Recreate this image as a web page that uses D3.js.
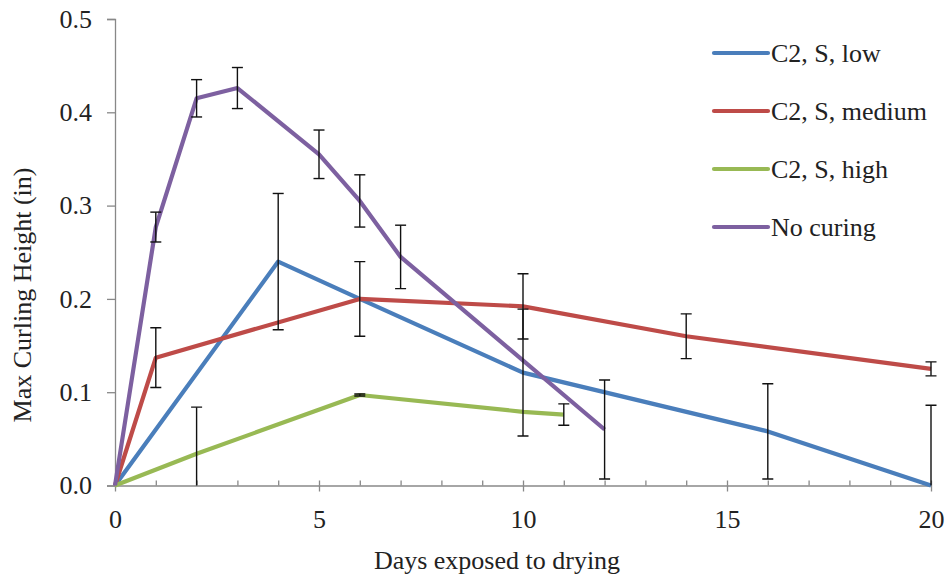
<!DOCTYPE html>
<html>
<head>
<meta charset="utf-8">
<script src="https://cdn.jsdelivr.net/npm/d3@7/dist/d3.min.js"></script>
<style>
  body { margin: 0; background: #fff; }
  svg text { font-family: "Liberation Serif", "Times New Roman", serif; fill: #222; }
</style>
</head>
<body>
<div id="chart"></div>
<script>
// series names + colours (Excel-ish palette)
const seriesNames = ["C2, S, low", "C2, S, medium", "C2, S, high", "No curing"];
const seriesColors = ["#4a7ebb", "#be4b48", "#98b954", "#7d60a0"];

// days on x, curling height (in) on y, error = half-length of bar (0 = none)
const lowDays = [0, 4, 6, 10, 16, 20];
const lowVals = [0, 0.240, 0.200, 0.121, 0.058, 0.000];
const lowErr  = [0, 0.073, 0, 0.068, 0.051, 0.086];

const medDays = [0, 1, 6, 10, 14, 20];
const medVals = [0, 0.137, 0.200, 0.192, 0.160, 0.125];
const medErr  = [0, 0.032, 0.040, 0.035, 0.024, 0.0075];

const highDays = [0, 2, 6, 10, 11];
const highVals = [0, 0.034, 0.097, 0.079, 0.076];
const highErr  = [0, 0.050, 0.001, 0, 0.0115];

const noCureDays = [0, 1, 2, 3, 5, 6, 7, 12];
const noCureVals = [0, 0.277, 0.415, 0.426, 0.355, 0.305, 0.245, 0.060];
const noCureErr  = [0, 0.016, 0.020, 0.022, 0.026, 0.028, 0.034, 0.053];

const xMajorTicks = [0, 5, 10, 15, 20];
const yTicks = [0, 0.1, 0.2, 0.3, 0.4, 0.5];

const width = 949, height = 577;
const margin = {top: 19, right: 18, bottom: 91.5, left: 115};
const fontSize = 26;

function toPoints(days, vals, errs) {
    return days.map((d, i) => ({day: d, v: vals[i], e: errs[i]}));
}

const series = [
    toPoints(lowDays, lowVals, lowErr),
    toPoints(medDays, medVals, medErr),
    toPoints(highDays, highVals, highErr),
    toPoints(noCureDays, noCureVals, noCureErr)
].map((pts, i) => ({name: seriesNames[i], color: seriesColors[i], points: pts}));

const svg = d3.select("#chart").append("svg")
    .attr("width", width)
    .attr("height", height);

const x = d3.scaleLinear().domain([0, 20]).range([margin.left, width - margin.right]);
const y = d3.scaleLinear().domain([0, 0.5]).range([height - margin.bottom, margin.top]);

const axisColor = "#888";

// y axis
const yAxis = svg.append("g")
    .attr("transform", "translate(" + margin.left + ",0)")
    .call(d3.axisLeft(y).tickValues(yTicks).tickFormat(d3.format(".1f")).tickSize(8).tickPadding(15));
yAxis.selectAll("path, line").attr("stroke", axisColor).attr("stroke-width", 1.3);
yAxis.selectAll("text").attr("font-size", fontSize).attr("font-family", "Liberation Serif").attr("fill", "#222");

// x axis: minor ticks each day, pointing up
const xMinor = svg.append("g")
    .attr("transform", "translate(0," + y(0) + ")")
    .call(d3.axisTop(x).tickValues(d3.range(0, 21)).tickFormat("").tickSize(5).tickSizeOuter(0));
xMinor.selectAll("path, line").attr("stroke", axisColor).attr("stroke-width", 1.3);

// major ticks cross the axis
const xAxis = svg.append("g")
    .attr("transform", "translate(0," + y(0) + ")")
    .call(d3.axisBottom(x).tickValues(xMajorTicks).tickSize(6).tickSizeOuter(0).tickPadding(18));
xAxis.selectAll("path, line").attr("stroke", axisColor).attr("stroke-width", 1.3);
xAxis.select(".domain").remove();
xAxis.selectAll("text").attr("font-size", fontSize).attr("font-family", "Liberation Serif").attr("fill", "#222");

// axis titles
svg.append("text")
    .attr("x", 497)
    .attr("y", 569)
    .attr("text-anchor", "middle")
    .attr("font-size", fontSize)
    .text("Days exposed to drying");

svg.append("text")
    .attr("transform", "translate(31,295) rotate(-90)")
    .attr("text-anchor", "middle")
    .attr("font-size", fontSize)
    .text("Max Curling Height (in)");

// lines
const line = d3.line().x(d => x(d.day)).y(d => y(d.v));

svg.append("g").selectAll("path")
    .data(series)
    .enter().append("path")
    .attr("d", d => line(d.points))
    .attr("fill", "none")
    .attr("stroke", d => d.color)
    .attr("stroke-width", 4.2)
    .attr("stroke-linejoin", "round");

// error bars, cut off at y = 0 like excel does
svg.append("clipPath").attr("id", "plotClip")
    .append("rect")
    .attr("x", 0).attr("y", 0)
    .attr("width", width)
    .attr("height", y(0));

const errPts = series.flatMap(s => s.points.filter(p => p.e > 0));
const capW = 5.5;
const eb = svg.append("g").attr("clip-path", "url(#plotClip)")
    .selectAll("g")
    .data(errPts)
    .enter().append("g")
    .attr("stroke", "#111")
    .attr("stroke-width", 1.4);

eb.append("line")
    .attr("x1", d => x(d.day)).attr("x2", d => x(d.day))
    .attr("y1", d => y(d.v + d.e)).attr("y2", d => y(d.v - d.e));
eb.append("line")
    .attr("x1", d => x(d.day) - capW).attr("x2", d => x(d.day) + capW)
    .attr("y1", d => y(d.v + d.e)).attr("y2", d => y(d.v + d.e));
eb.append("line")
    .attr("x1", d => x(d.day) - capW).attr("x2", d => x(d.day) + capW)
    .attr("y1", d => y(d.v - d.e)).attr("y2", d => y(d.v - d.e));

// legend
const legend = svg.append("g").selectAll("g")
    .data(series)
    .enter().append("g")
    .attr("transform", (d, i) => "translate(714," + (53 + i * 58) + ")");

legend.append("line")
    .attr("x1", 0).attr("x2", 54)
    .attr("y1", 0).attr("y2", 0)
    .attr("stroke", d => d.color)
    .attr("stroke-width", 4.2)
    .attr("stroke-linecap", "round");

legend.append("text")
    .attr("x", 57)
    .attr("y", 0)
    .attr("dy", "0.33em")
    .attr("font-size", fontSize)
    .text(d => d.name);
</script>
</body>
</html>
